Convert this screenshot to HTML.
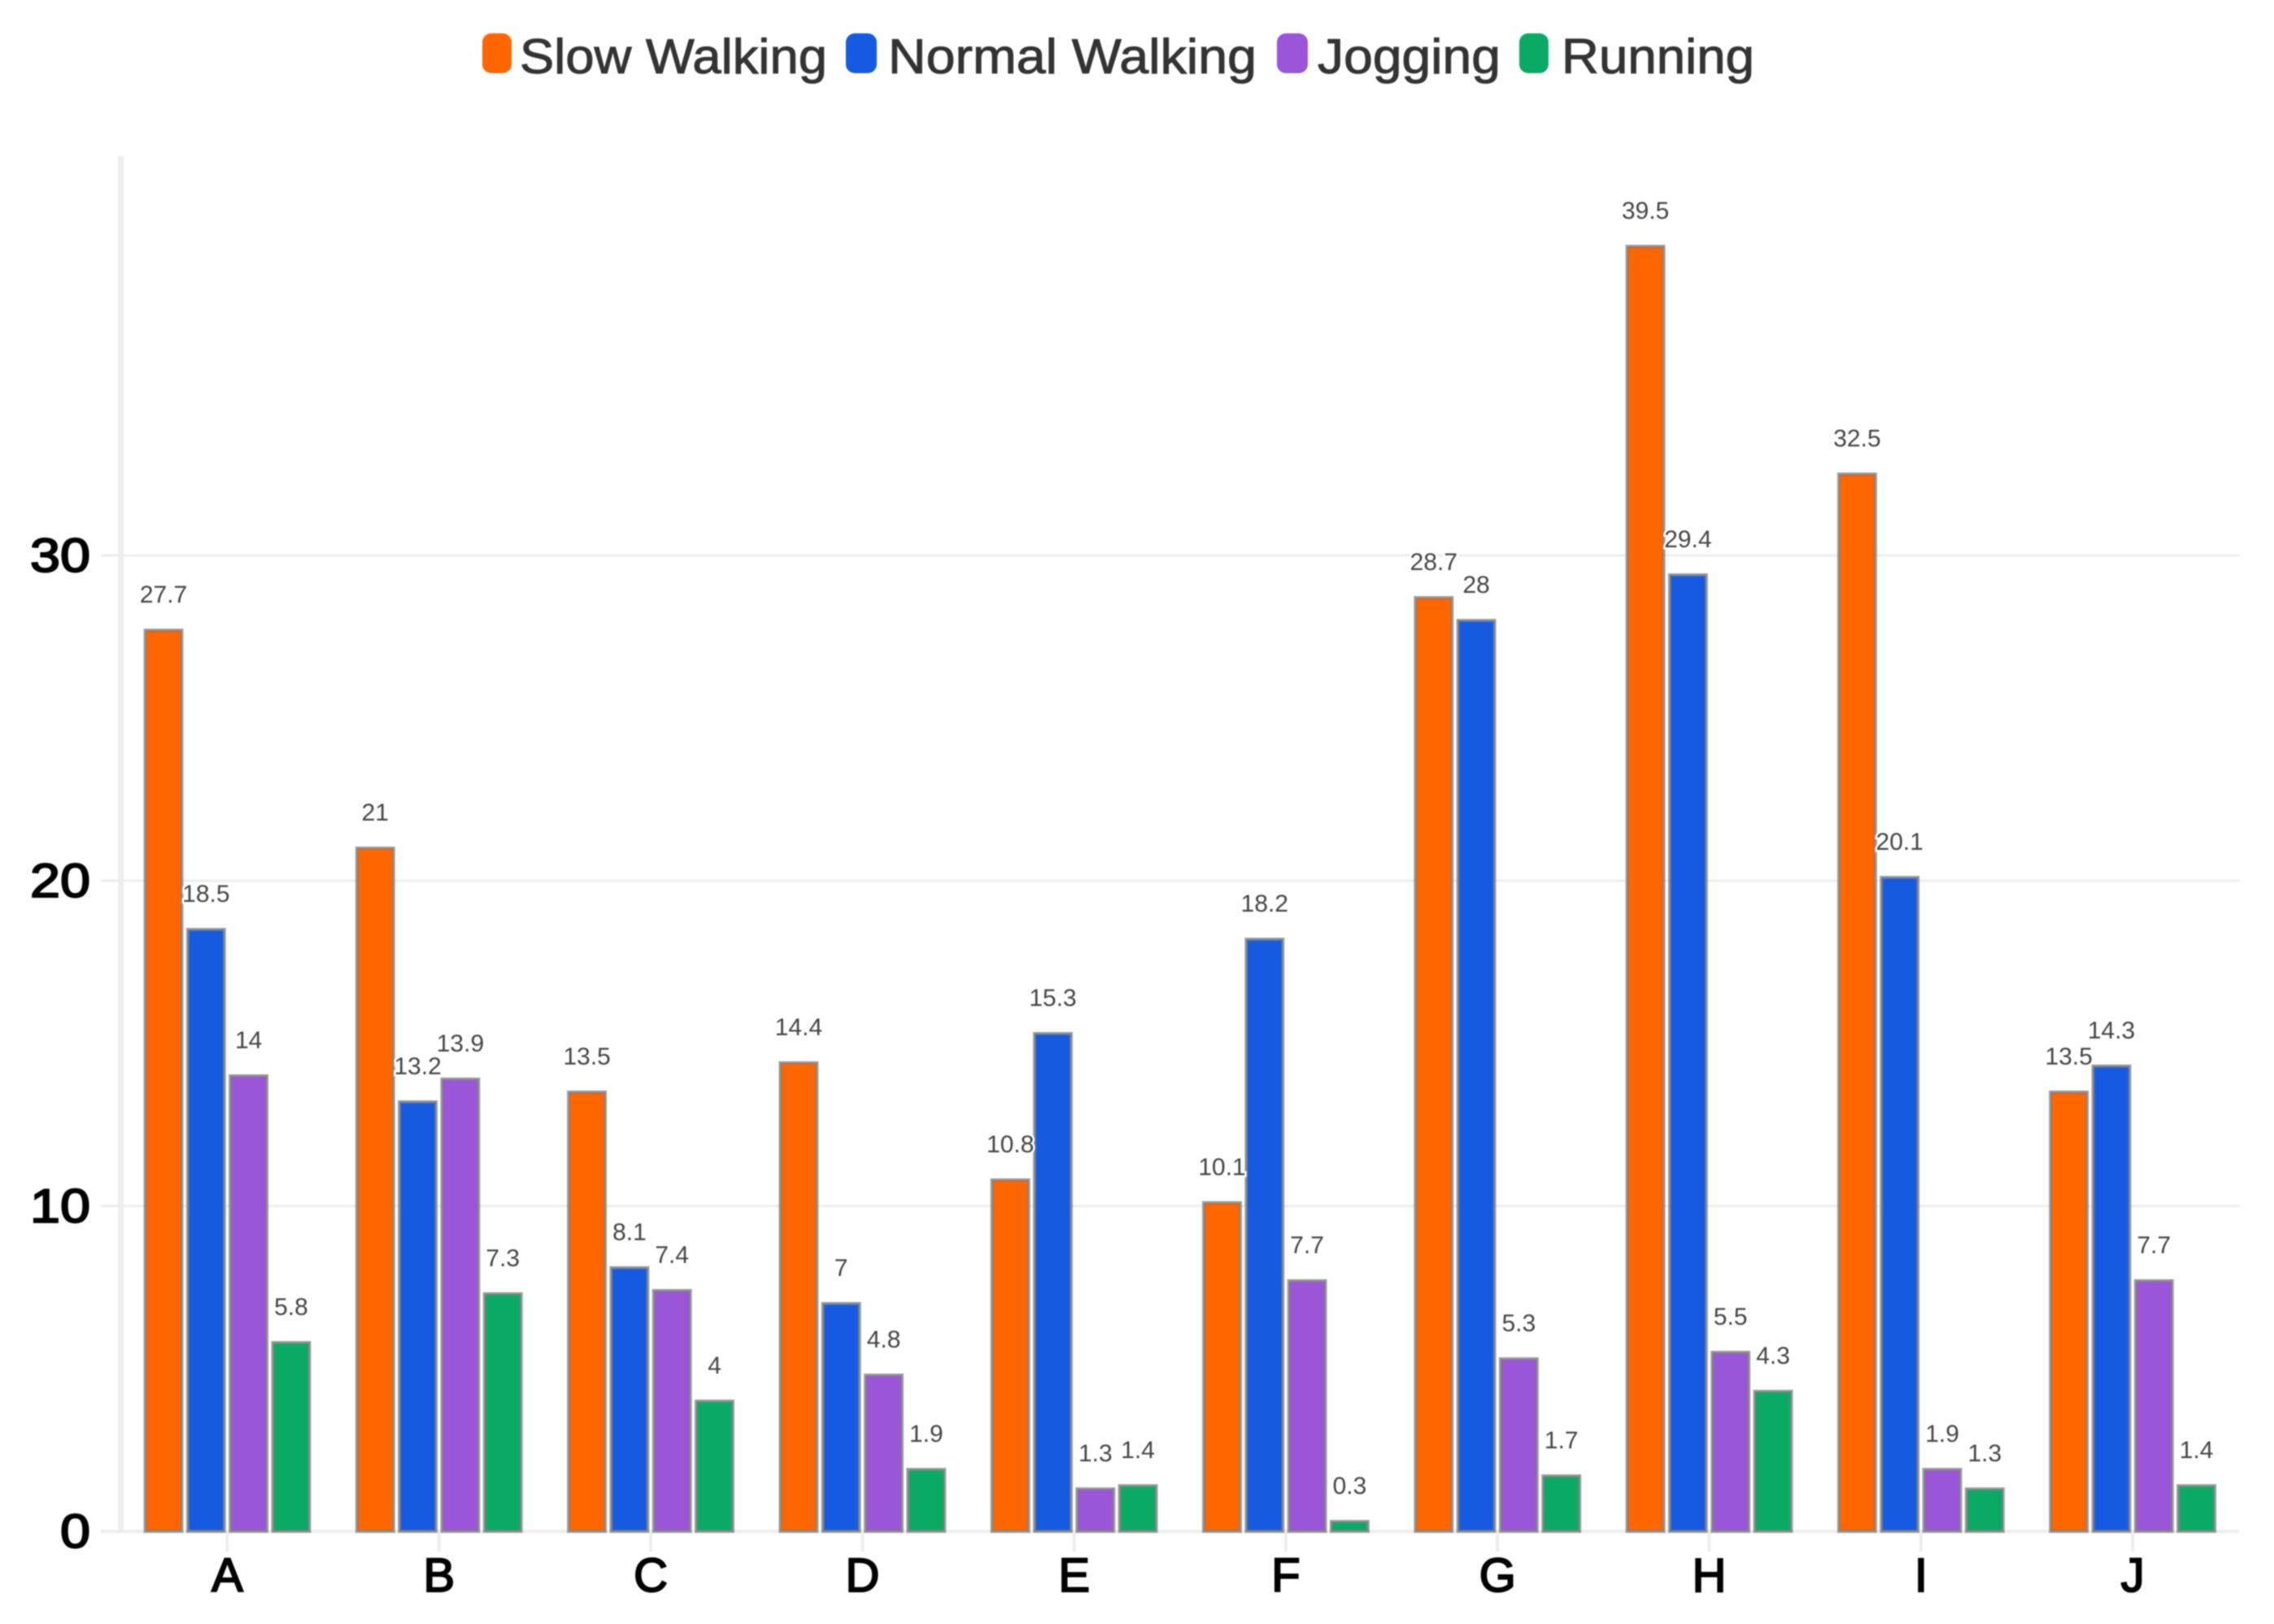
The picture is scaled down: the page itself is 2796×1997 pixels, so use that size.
<!DOCTYPE html>
<html lang="en">
<head>
<meta charset="utf-8">
<title>Walking and running chart</title>
<style>
html,body{margin:0;padding:0;background:#fff;width:2796px;height:1997px;overflow:hidden}
svg{display:block;font-family:"Liberation Sans",sans-serif;filter:blur(0.9px)}
</style>
</head>
<body>
<svg id="chart" xmlns="http://www.w3.org/2000/svg" width="2796" height="1997" viewBox="0 0 2796 1997">
<rect x="0" y="0" width="2796" height="1997" fill="#fff"/>
<g id="grid"></g>
<g id="bars"></g>
<g id="labels"></g>
<g id="axes"></g>
<g font-size="60" fill="#333" stroke="#333" stroke-width="1">
<g>
<rect x="593" y="41" width="36" height="49" rx="11" fill="#ff6600" stroke="none"/>
<text x="639" y="90" textLength="378" lengthAdjust="spacingAndGlyphs">Slow Walking</text>
</g>
<g>
<rect x="1040" y="41" width="38" height="49" rx="11" fill="#155ae0" stroke="none"/>
<text x="1092" y="90" textLength="453" lengthAdjust="spacingAndGlyphs">Normal Walking</text>
</g>
<g>
<rect x="1570" y="41" width="38" height="49" rx="11" fill="#9a55d8" stroke="none"/>
<text x="1620" y="90" textLength="225" lengthAdjust="spacingAndGlyphs">Jogging</text>
</g>
<g>
<rect x="1868" y="41" width="36" height="49" rx="11" fill="#0aaa64" stroke="none"/>
<text x="1920" y="90" textLength="237" lengthAdjust="spacingAndGlyphs">Running</text>
</g>
</g>
</svg>
<script>
const categories = ["A","B","C","D","E","F","G","H","I","J"];
const slowWalking = [27.7,21,13.5,14.4,10.8,10.1,28.7,39.5,32.5,13.5];
const normalWalking = [18.5,13.2,8.1,7,15.3,18.2,28,29.4,20.1,14.3];
const jogging = [14,13.9,7.4,4.8,1.3,7.7,5.3,5.5,1.9,7.7];
const running = [5.8,7.3,4,1.9,1.4,0.3,1.7,4.3,1.3,1.4];
const yTickValues = [0,10,20,30];
const seriesNames = ["slow-walking","normal-walking","jogging","running"];
const seriesColors = ["#ff6600","#155ae0","#9a55d8","#0aaa64"];

const NS = "http://www.w3.org/2000/svg";
const seriesValues = [slowWalking, normalWalking, jogging, running];
const baseY = 1883, unitY = 40;
const firstCenter = 279.5, groupStep = 260.3, barStep = 52.3, barWidth = 45;
const gridRight = 2753;
function yScale(v){ return baseY - v * unitY; }
function xCenter(i){ return firstCenter + i * groupStep; }
function xBar(i, s){ return xCenter(i) + (s - (seriesValues.length - 1) / 2) * barStep; }
function make(tag, attrs, parent){
  const el = document.createElementNS(NS, tag);
  for (const k in attrs) el.setAttribute(k, attrs[k]);
  parent.appendChild(el);
  return el;
}
const grid = document.getElementById("grid");
const barsG = document.getElementById("bars");
const labelsG = document.getElementById("labels");
const axes = document.getElementById("axes");

yTickValues.forEach(function(t){
  if (t !== 0) {
    const line = make("line", {x1:152, x2:gridRight, y1:yScale(t), y2:yScale(t), stroke:"#eeeeee", "stroke-width":3}, grid);
    
    
  }
});
const baseline = make("line", {x1:124, x2:gridRight, y1:yScale(0), y2:yScale(0), stroke:"#eeeeee", "stroke-width":4}, grid);


const yAxis = make("line", {x1:148.5, x2:148.5, y1:192, y2:yScale(0), stroke:"#eeeeee", "stroke-width":7}, grid);



yTickValues.forEach(function(t){
  const tick = make("line", {x1:124, x2:148, y1:yScale(t), y2:yScale(t), stroke:"#eeeeee", "stroke-width":3.5}, grid);
  
  
  const label = make("text", {x:37, y:yScale(t) + 20, "font-size":58, fill:"#000", stroke:"#000", "stroke-width":2}, axes);
  const tickText = String(t);
  label.setAttribute('x', 111 - tickText.length * 37);
  label.setAttribute('textLength', tickText.length * 37);
  label.setAttribute('lengthAdjust', 'spacingAndGlyphs');
  
  
  label.textContent = tickText;
});

categories.forEach(function(c, i){
  const tick = make("line", {x1:xCenter(i), x2:xCenter(i), y1:yScale(0), y2:yScale(0) + 25, stroke:"#eeeeee", "stroke-width":4}, grid);
  
  
  const label = make("text", {x:xCenter(i), y:yScale(0) + 74, "text-anchor":"middle", "font-size":58, fill:"#000", stroke:"#000", "stroke-width":2}, axes);
  
  
  label.textContent = c;
});

seriesValues.forEach(function(values, s){
  values.forEach(function(v, i){
    const bar = make("rect", {x:xBar(i, s) - barWidth / 2, y:yScale(v), width:barWidth, height:yScale(0) - yScale(v), fill:seriesColors[s], stroke:"#808080", "stroke-opacity":0.75, "stroke-width":4}, barsG);
    
    
    const label = make("text", {x:xBar(i, s), y:yScale(v) - 34, "text-anchor":"middle", "font-size":30, fill:"#444", stroke:"#fff", "stroke-width":5, "paint-order":"stroke"}, labelsG);
    
    
    label.textContent = v;
  });
});
</script>
</body>
</html>
